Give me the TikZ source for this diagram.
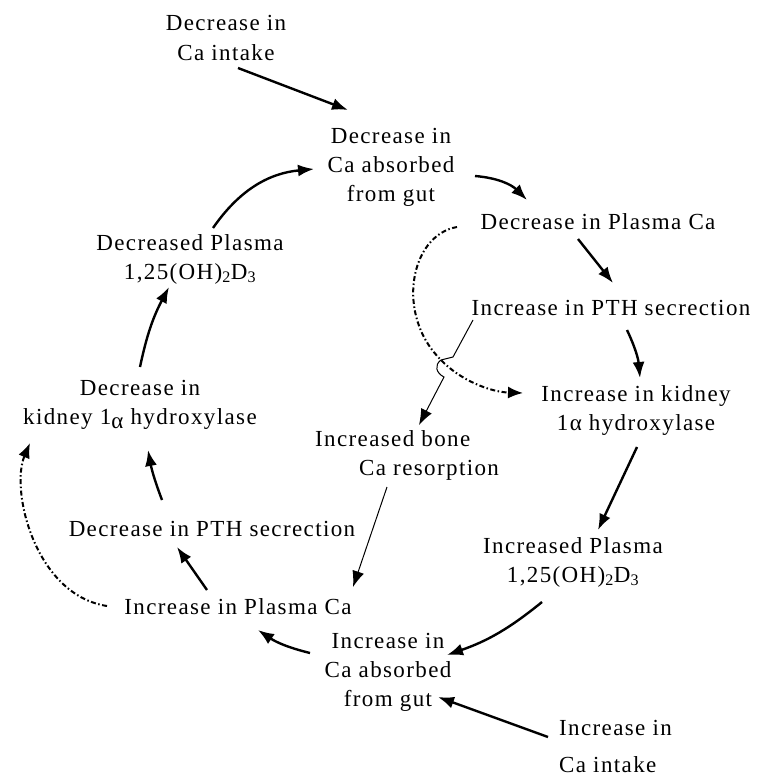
\documentclass[tikz,border=0pt]{standalone}
\usepackage{fontspec}
\setmainfont{Liberation Serif}[LetterSpace=6]
\usetikzlibrary{arrows.meta}

\begin{document}
\begin{tikzpicture}[x=1pt,y=-1pt,inner sep=1pt,
  font=\fontsize{23}{29}\selectfont,
  lbl/.style={align=center},
  lbll/.style={align=left,anchor=west},
  flow/.style={-{Latex[length=16pt,width=12pt]},line width=2.4pt},
  link/.style={-{Latex[length=16pt,width=12pt]},line width=1pt},
  fback/.style={-{Latex[length=15pt,width=12pt]},line width=2pt,
    dash pattern=on 5pt off 2.5pt on 1.5pt off 2.5pt}]
\useasboundingbox (0,0) rectangle (757,778);

\node[lbl] (dCa) at (226,38) {Decrease in\\Ca intake};
\node[lbl] (dAbs) at (391,167) {Decrease in\\Ca absorbed\\from gut};
\node[lbl] (dPCa) at (598,222) {Decrease in Plasma Ca};
\node[lbl] (iPTH) at (611,308) {Increase in PTH secrection};
\node[lbl] (iKid) at (636,410) {Increase in kidney\\1α hydroxylase};
\node[lbl] (iVitD) at (573,562) {Increased Plasma\\1,25(OH)\textsubscript{2}D\textsubscript{3}};
\node[lbl] (iAbs) at (388,672) {Increase in\\Ca absorbed\\from gut};
\node[lbll,align=left] (iCa) at (558,746) {Increase in\\[8pt]Ca intake};
\node[lbl] (iPCa) at (238,607) {Increase in Plasma Ca};
\node[lbl] (dPTH) at (212,529) {Decrease in PTH secrection};
\node[lbl] (dKid) at (140,405) {Decrease in\\kidney 1\raisebox{-4pt}{α} hydroxylase};
\node[lbl] (dVitD) at (190,259) {Decreased Plasma\\1,25(OH)\textsubscript{2}D\textsubscript{3}};
\node[lbll] (iBone) at (314,455) {Increased bone\\\hspace*{44pt}Ca resorption};

\path ([shift={(12,30)}]dCa.center) edge [flow] ([shift={(-43,-57)}]dAbs.center);
\path ([shift={(84,9)}]dAbs.center) edge [flow,bend left=20] ([shift={(-71,-22)}]dPCa.center);
\path ([shift={(-20,17)}]dPCa.center) edge [flow] ([shift={(2,-25)}]iPTH.center);
\path ([shift={(16,22)}]iPTH.center) edge [flow,bend left=10] ([shift={(4,-32)}]iKid.center);
\path ([shift={(1,37)}]iKid.center) edge [flow] ([shift={(25,-32)}]iVitD.center);
\path ([shift={(-31,40)}]iVitD.center) edge [flow,bend left=10] ([shift={(59,-17)}]iAbs.center);
\path ([shift={(-10,-9)}]iCa.west) edge [flow] ([shift={(50,25)}]iAbs.center);
\path ([shift={(-78,-19)}]iAbs.center) edge [flow,bend left=10] ([shift={(20,23)}]iPCa.center);
\path ([shift={(-31,-17)}]iPCa.center) edge [flow] ([shift={(-35,18)}]dPTH.center);
\path ([shift={(-50,-29)}]dPTH.center) edge [flow,bend left=5] ([shift={(8,45)}]dKid.center);
\path ([shift={(0,-38)}]dKid.center) edge [flow,bend left=8] ([shift={(-21,28)}]dVitD.center);
\path ([shift={(23,-31)}]dVitD.center) edge [flow,bend left=25] ([shift={(-77,2)}]dAbs.center);

\draw[link] ([shift={(-138,12)}]iPTH.center) -- ++(-20,37) -- ++(-12,3)
  .. controls +(-7,5) and +(-8,-4) .. ++(3,17) -- ([shift={(105,-30)}]iBone.west);
\path ([shift={(73,32)}]iBone.west) edge [link] ([shift={(115,-20)}]iPCa.center);

\draw[fback] ([shift={(-141,5)}]dPCa.center) .. controls +(-47,8) and +(-46,-45) .. ++(-16,133)
  .. controls +(19,20) and +(-33,-1) .. ([shift={(-113,-17)}]iKid.center);
\draw[fback] ([shift={(-131,-1)}]iPCa.center) .. controls +(-72,-11) and +(-20,47) .. ([shift={(-110,38)}]dKid.center);

\end{tikzpicture}
\end{document}
